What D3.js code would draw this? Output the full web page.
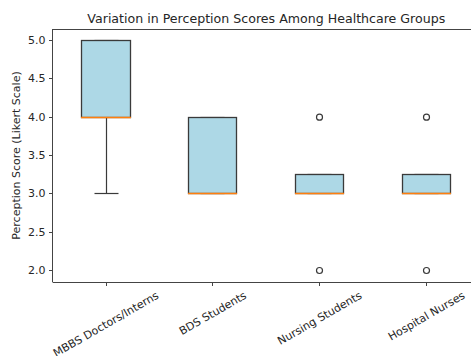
<!DOCTYPE html>
<html><head><meta charset="utf-8">
<script src="https://cdn.jsdelivr.net/npm/d3@7"></script>
<style>body{margin:0;background:#fff}svg{display:block}text{font-family:"DejaVu Sans",sans-serif;fill:#262626}</style>
</head><body><svg id="c" width="471" height="356"></svg>
<script>
const categories = ["MBBS Doctors/Interns","BDS Students","Nursing Students","Hospital Nurses"];
const q1 = [4, 3, 3, 3];
const median = [4, 3, 3, 3];
const q3 = [5, 4, 3.25, 3.25];
const whiskerLow = [3, 3, 3, 3];
const whiskerHigh = [5, 4, 3.25, 3.25];
const fliers = [[], [], [4, 2], [4, 2]];
const yTicks = [2.0, 2.5, 3.0, 3.5, 4.0, 4.5, 5.0];
const title = "Variation in Perception Scores Among Healthcare Groups";
const yLabel = "Perception Score (Likert Scale)";

const svg = d3.select("#c");
const L = 52.6, R = 480, T = 29, B = 282;
const x = d3.scaleLinear().domain([0.5, 4.5]).range([L, R]);
const y = d3.scaleLinear().domain([1.85, 5.15]).range([B, T]);
const s = v => Math.round(v - 0.5) + 0.5;
const boxW = 0.45;
const pos = categories.map((d, i) => i + 1);
const edge = "#3a3a3a";

const g = svg.append("g");
pos.forEach((p, i) => {
  const x0 = s(x(p - boxW / 2)), x1 = s(x(p + boxW / 2)), xc = s(x(p));
  [[q1[i], whiskerLow[i]], [q3[i], whiskerHigh[i]]].forEach(([a, b]) => {
    if (a !== b) {
      g.append("line").attr("x1", xc).attr("x2", xc).attr("y1", s(y(a))).attr("y2", s(y(b)))
        .attr("stroke", edge).attr("stroke-width", 1.2);
    }
  });
  [whiskerLow[i], whiskerHigh[i]].forEach(v => {
    g.append("line").attr("x1", s(x(p - boxW / 4))).attr("x2", s(x(p + boxW / 4))).attr("y1", s(y(v))).attr("y2", s(y(v)))
      .attr("stroke", edge).attr("stroke-width", 1.2);
  });
  g.append("rect").attr("x", x0).attr("width", x1 - x0).attr("y", s(y(q3[i]))).attr("height", s(y(q1[i])) - s(y(q3[i])))
    .attr("fill", "#add8e6").attr("stroke", edge).attr("stroke-width", 1.3);
  g.append("line").attr("x1", x0 - 0.5).attr("x2", x1 + 0.5).attr("y1", s(y(median[i]))).attr("y2", s(y(median[i])))
    .attr("stroke", "#ff7f0e").attr("stroke-width", 1.3);
  fliers[i].forEach(v => {
    g.append("circle").attr("cx", xc).attr("cy", y(v)).attr("r", 3)
      .attr("fill", "none").attr("stroke", edge).attr("stroke-width", 1.2);
  });
});

const sp = "#444";
svg.append("line").attr("x1", s(L)).attr("x2", s(L)).attr("y1", T).attr("y2", B).attr("stroke", sp).attr("stroke-width", 1);
svg.append("line").attr("x1", L).attr("x2", R).attr("y1", s(T)).attr("y2", s(T)).attr("stroke", sp).attr("stroke-width", 1);
svg.append("line").attr("x1", L).attr("x2", R).attr("y1", s(B)).attr("y2", s(B)).attr("stroke", sp).attr("stroke-width", 1);

const fs = 11;
const ya = svg.append("g").attr("transform", `translate(${s(L)},0)`)
  .call(d3.axisLeft(y).tickValues(yTicks).tickFormat(d3.format(".1f")).tickSize(3.5).tickPadding(3.5));
ya.select(".domain").remove();
ya.selectAll("line").attr("stroke", sp).attr("transform", function () { return null; });
ya.selectAll(".tick").attr("transform", d => `translate(0,${s(y(d))})`);
ya.selectAll("text").attr("font-size", fs + "px").attr("font-family", "DejaVu Sans").attr("fill", "#262626");

const xa = svg.append("g").attr("transform", `translate(0,${s(B)})`)
  .call(d3.axisBottom(x).tickValues(pos).tickFormat("").tickSize(3.5));
xa.select(".domain").remove();
xa.selectAll(".tick").attr("transform", d => `translate(${s(x(d))},0)`);
xa.selectAll("line").attr("stroke", sp);

pos.forEach((p, i) => {
  const t = svg.append("text").attr("font-size", fs + "px").attr("text-anchor", "middle")
    .attr("dominant-baseline", "central").text(categories[i]);
  const len = t.node().getComputedTextLength();
  const h = fs * 1.17;
  const bh = len * 0.5 + h * Math.cos(Math.PI / 6);
  const cy = B + 3.5 + 3.5 + bh / 2;
  t.attr("transform", `translate(${x(p)},${cy}) rotate(-30)`);
});

svg.append("text").attr("x", (L + R) / 2).attr("y", 23).attr("text-anchor", "middle")
  .attr("font-size", "12.6px").text(title);
svg.append("text").attr("transform", `translate(20,${(T + B) / 2}) rotate(-90)`).attr("text-anchor", "middle")
  .attr("font-size", fs + "px").text(yLabel);
</script></body></html>
